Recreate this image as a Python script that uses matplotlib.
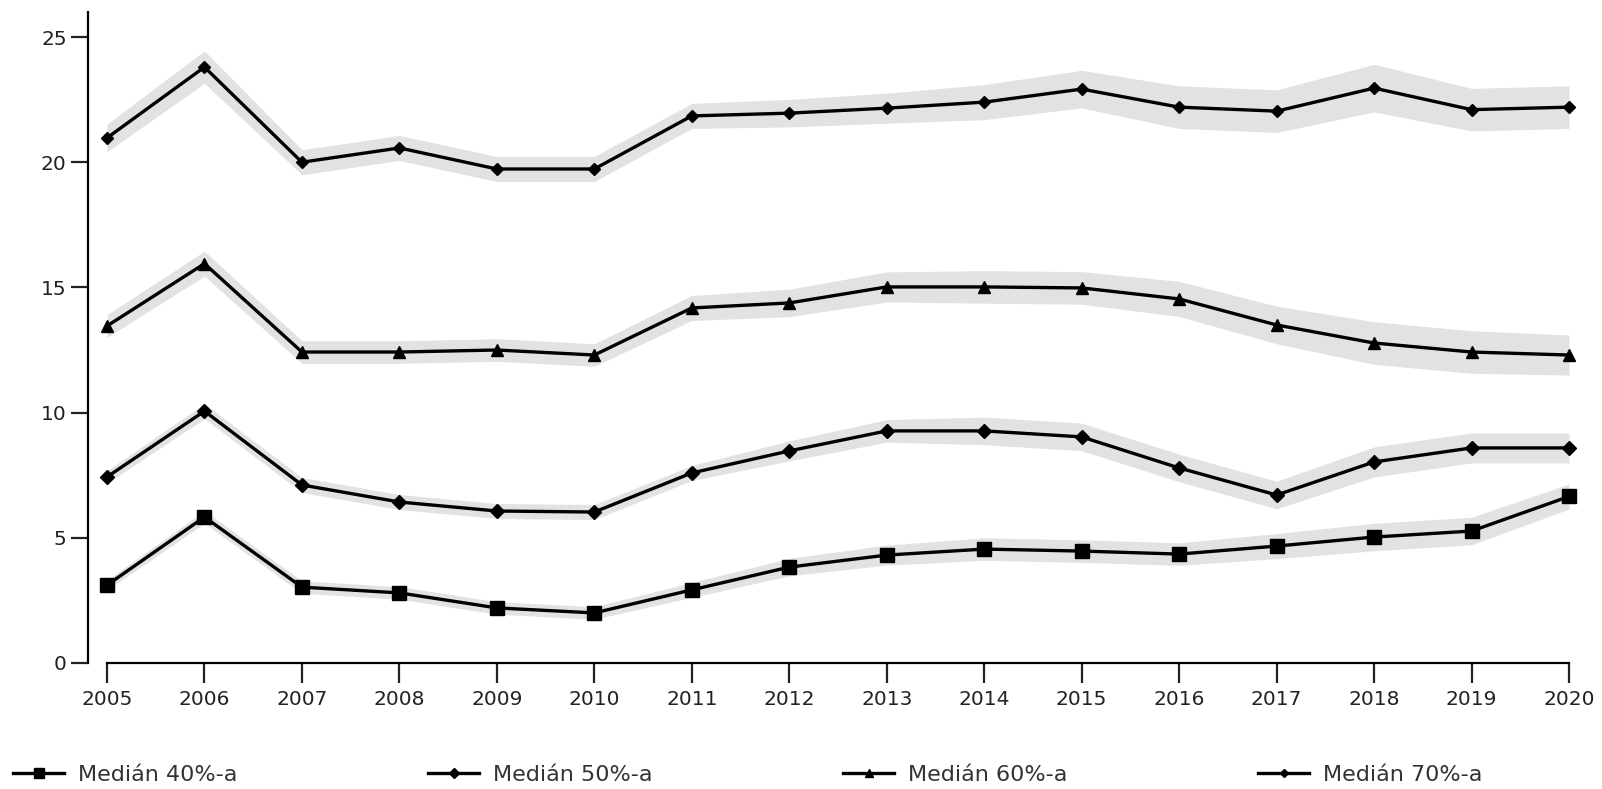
import matplotlib
matplotlib.use("Agg")
import matplotlib.pyplot as plt
import numpy as np

plt.rcParams['font.family'] = ['DejaVu Sans']

years = list(range(2005, 2021))
year_labels = [str(y) for y in years]

# Median values by threshold
median_40 = [3.11, 5.83, 3.03, 2.80, 2.20, 2.00, 2.92, 3.83, 4.31, 4.55, 4.47, 4.35, 4.67, 5.03, 5.27, 6.65]
median_50 = [7.43, 10.06, 7.11, 6.43, 6.07, 6.03, 7.59, 8.47, 9.27, 9.27, 9.03, 7.79, 6.71, 8.03, 8.59, 8.59]
median_60 = [13.46, 15.95, 12.42, 12.42, 12.50, 12.30, 14.18, 14.38, 15.02, 15.02, 14.98, 14.54, 13.50, 12.78, 12.42, 12.30]
median_70 = [20.97, 23.80, 20.00, 20.57, 19.73, 19.73, 21.85, 21.96, 22.16, 22.40, 22.92, 22.20, 22.04, 22.96, 22.10, 22.20]

# Half-width of the uncertainty band around each median
band_40 = [0.20, 0.25, 0.25, 0.25, 0.25, 0.25, 0.30, 0.35, 0.40, 0.45, 0.45, 0.45, 0.50, 0.55, 0.55, 0.50]
band_50 = [0.25, 0.30, 0.30, 0.30, 0.30, 0.30, 0.30, 0.40, 0.45, 0.55, 0.55, 0.55, 0.55, 0.60, 0.60, 0.60]
band_60 = [0.45, 0.50, 0.45, 0.45, 0.45, 0.45, 0.50, 0.55, 0.60, 0.65, 0.65, 0.70, 0.75, 0.85, 0.85, 0.80]
band_70 = [0.55, 0.65, 0.50, 0.50, 0.50, 0.50, 0.50, 0.55, 0.60, 0.70, 0.75, 0.85, 0.85, 0.95, 0.85, 0.85]

series_labels = ["Medián 40%-a", "Medián 50%-a", "Medián 60%-a", "Medián 70%-a"]

y_ticks = [0, 5, 10, 15, 20, 25]

fig = plt.figure(figsize=(16.02, 7.89), dpi=100)
ax = fig.add_axes([87.5 / 1602, 126 / 789, 1501 / 1602, 651 / 789])

series = [
    (median_40, band_40, dict(marker='s', markersize=10.5)),
    (median_50, band_50, dict(marker='D', markersize=7)),
    (median_60, band_60, dict(marker='^', markersize=8)),
    (median_70, band_70, dict(marker='D', markersize=6.5)),
]

handles = []
x = np.array(years)
for (vals, hw, mstyle), label in zip(series, series_labels):
    v = np.array(vals)
    h = np.array(hw)
    ax.fill_between(x, v - h, v + h, color='#e2e2e2', lw=0, zorder=1)
    ln, = ax.plot(x, v, color='black', lw=2.4, zorder=3, label=label,
                  markerfacecolor='black', markeredgecolor='black', **mstyle)
    handles.append(ln)

ax.set_xlim(2004.8, 2020.2)
ax.set_ylim(0, 26)

ax.set_xticks(years)
ax.set_xticklabels(year_labels)
ax.set_yticks(y_ticks)
ax.set_yticklabels([str(t) for t in y_ticks])

for side in ('top', 'right'):
    ax.spines[side].set_visible(False)
ax.spines['bottom'].set_bounds(2005, 2020)
ax.spines['left'].set_bounds(0, 26)
ax.spines['left'].set_linewidth(1.6)
ax.spines['bottom'].set_linewidth(1.6)

ax.tick_params(axis='x', length=14.4, width=1.6, pad=5, labelsize=14.5, colors='#222222')
ax.tick_params(axis='y', length=12, width=1.6, pad=3, labelsize=14.5, colors='#222222')

fig.legend(handles=handles, labels=series_labels, loc='lower left',
           bbox_to_anchor=(0.0, -0.012), ncol=4, frameon=False,
           fontsize=16, handlelength=2.3, handletextpad=0.6, markerscale=0.7,
           columnspacing=8.6, labelcolor='#333333', borderaxespad=0.2)

fig.savefig("out.png", dpi=100, facecolor='white')
